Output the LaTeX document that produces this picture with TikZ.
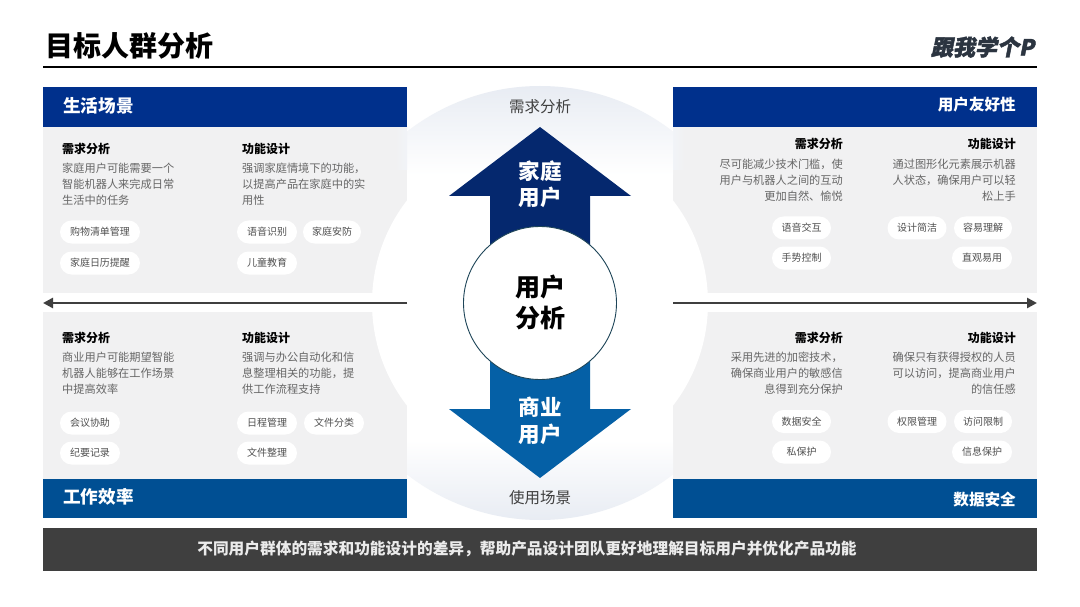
\documentclass[tikz,border=0pt]{standalone}
\usepackage{fontspec}
\usetikzlibrary{arrows.meta}
\setmainfont{Noto Sans CJK SC}
\newfontfamily\logofont[BoldFeatures={FakeBold=2}]{Noto Sans CJK SC}
\definecolor{hdrA}{HTML}{00308C}
\definecolor{hdrB}{HTML}{004F93}
\definecolor{panel}{HTML}{F1F1F2}
\definecolor{arrA}{HTML}{05286E}
\definecolor{arrB}{HTML}{0560A6}
\definecolor{barc}{HTML}{3F3F3F}
\definecolor{body}{HTML}{666666}
\definecolor{pilltxt}{HTML}{505050}
\definecolor{halo}{HTML}{E8ECF3}
\definecolor{hubline}{HTML}{1E4558}
\definecolor{logoc}{HTML}{2B3440}
\tikzset{
  x=1pt,y=-1pt,
  panelbox/.style={fill=panel,draw=none},
  hdrL/.style={inner sep=0,anchor=west,text=white,font=\fontsize{17.6}{20}\selectfont\bfseries},
  hdrR/.style={inner sep=0,anchor=east,text=white,font=\fontsize{15.6}{20}\selectfont\bfseries},
  headL/.style={inner sep=0,anchor=west,text=black,font=\fontsize{12}{16}\selectfont\bfseries},
  headR/.style={inner sep=0,anchor=east,text=black,font=\fontsize{12}{16}\selectfont\bfseries},
  bodyL/.style={inner sep=0,anchor=north west,align=left,text=body,font=\fontsize{11.2}{16}\selectfont},
  bodyR/.style={inner sep=0,anchor=north east,align=right,text=body,font=\fontsize{11.2}{16}\selectfont},
  pill/.style={fill=white,draw=none,rounded corners=11.5pt,minimum height=23pt,inner sep=0,text=pilltxt,font=\fontsize{10}{12}\selectfont},
  harrow/.style={draw=barc,line width=2.8pt,-{Triangle[length=10pt,width=10pt]}},
  arrowtxt/.style={inner sep=0,text=white,font=\fontsize{21.5}{24}\selectfont\bfseries},
  hubtxt/.style={inner sep=0,text=black,font=\fontsize{25}{28}\selectfont\bfseries},
  caplabel/.style={inner sep=0,text=barc,font=\fontsize{15.5}{18}\selectfont},
}
\begin{document}
\begin{tikzpicture}
\useasboundingbox (0,0) rectangle (1080,607);
\fill[white] (0,0) rectangle (1080,607);
% grey panels
\fill[panelbox] (43,127) rectangle (407,293);
\fill[panelbox] (43,312) rectangle (407,479);
\fill[panelbox] (673,127) rectangle (1037,293);
\fill[panelbox] (673,312) rectangle (1037,479);
% white disc
\fill[white] (540,303) circle (168);
% halo
\begin{scope}
\clip (407,80) rectangle (673,525);
\clip (540,303) circle (217);
\shade[top color=halo,bottom color=white] (407,86) rectangle (673,175);
\shade[top color=white,bottom color=halo] (407,440) rectangle (673,520);
\end{scope}
\shade[left color=panel,right color=halo!60!white] (395,127) rectangle (407,170);
\shade[left color=halo!60!white,right color=panel] (673,127) rectangle (685,170);
% title
\node[inner sep=0,anchor=west,font=\fontsize{28}{30}\selectfont\bfseries] (title) at (45.5,46) {目标人群分析};
\node[inner sep=0,anchor=east,xslant=0.2,transform shape,text=logoc,font=\logofont\fontsize{22}{24}\selectfont\bfseries] (logo) at (1036,47) {跟我学个P};
\coordinate (ruleL) at (43,67);
\coordinate (ruleR) at (1037,67);
\draw[black,line width=1.2pt] (ruleL) -- (ruleR);
% headers
\fill[hdrA] (43,87) rectangle (407,127);
\fill[hdrA] (673,87) rectangle (1037,127);
\fill[hdrB] (43,479) rectangle (407,518);
\fill[hdrB] (673,479) rectangle (1037,518);
\node[hdrL] (h1) at (63,106) {生活场景};
\node[hdrR] (h2) at (1016,105) {用户友好性};
\node[hdrL] (h3) at (63,497) {工作效率};
\node[hdrR] (h4) at (1016,500) {数据安全};
% axis arrows
\coordinate (al1) at (407,303);
\coordinate (al2) at (43,303);
\coordinate (ar1) at (673,303);
\coordinate (ar2) at (1037,303);
\draw[harrow] (al1) -- (al2);
\draw[harrow] (ar1) -- (ar2);
% centre arrows
\fill[arrA] (540,127) -- (631,196) -- (590,196) -- (590,303) -- (490,303) -- (490,196) -- (449,196) -- cycle;
\fill[arrB] (540,478) -- (631,409) -- (590,409) -- (590,303) -- (490,303) -- (490,409) -- (449,409) -- cycle;
\node[circle,fill=white,draw=hubline,line width=0.9pt,minimum size=153pt,inner sep=0] (hub) at (540,303) {};
\node[hubtxt] (hub1) at (540,287) {用户};
\node[hubtxt] (hub2) at (540,318) {分析};
\node[arrowtxt] (a1) at (540,171) {家庭};
\node[arrowtxt] (a2) at (540,197) {用户};
\node[arrowtxt] (a3) at (540,407) {商业};
\node[arrowtxt] (a4) at (540,434) {用户};
\node[caplabel] (c1) at (540,106.5) {需求分析};
\node[caplabel] (c2) at (540,497.5) {使用场景};
% top-left
\node[headL] (tlh1) at (62,149) {需求分析};
\node[bodyL] (tlb1) at (62,163) {家庭用户可能需要一个\\智能机器人来完成日常\\生活中的任务};
\node[headL] (tlh2) at (242,149) {功能设计};
\node[bodyL] (tlb2) at (242,163) {强调家庭情境下的功能，\\以提高产品在家庭中的实\\用性};
\node[pill,minimum width=80pt] (p1) at (100,232) {购物清单管理};
\node[pill,minimum width=80pt] (p2) at (100,263) {家庭日历提醒};
\node[pill,minimum width=60pt] (p3) at (267,232) {语音识别};
\node[pill,minimum width=58pt] (p4) at (332,232) {家庭安防};
\node[pill,minimum width=60pt] (p5) at (267,263) {儿童教育};
% bottom-left
\node[headL] (blh1) at (62,338) {需求分析};
\node[bodyL] (blb1) at (62,352) {商业用户可能期望智能\\机器人能够在工作场景\\中提高效率};
\node[headL] (blh2) at (242,338) {功能设计};
\node[bodyL] (blb2) at (242,352) {强调与办公自动化和信\\息整理相关的功能，提\\供工作流程支持};
\node[pill,minimum width=60pt] (p6) at (90,423) {会议协助};
\node[pill,minimum width=60pt] (p7) at (90,453) {纪要记录};
\node[pill,minimum width=60pt] (p8) at (267,423) {日程管理};
\node[pill,minimum width=60pt] (p9) at (334,423) {文件分类};
\node[pill,minimum width=60pt] (p10) at (267,453) {文件整理};
% top-right
\node[headR] (trh1) at (843,144) {需求分析};
\node[bodyR] (trb1) at (843,158.5) {尽可能减少技术门槛，使\\用户与机器人之间的互动\\更加自然、愉悦};
\node[headR] (trh2) at (1016,144) {功能设计};
\node[bodyR] (trb2) at (1016,158.5) {通过图形化元素展示机器\\人状态，确保用户可以轻\\松上手};
\node[pill,minimum width=59pt] (p11) at (801.5,228) {语音交互};
\node[pill,minimum width=59pt] (p12) at (801.5,258) {手势控制};
\node[pill,minimum width=59pt] (p13) at (917,228) {设计简洁};
\node[pill,minimum width=58pt] (p14) at (983,228) {容易理解};
\node[pill,minimum width=60pt] (p15) at (982,258) {直观易用};
% bottom-right
\node[headR] (brh1) at (843,338) {需求分析};
\node[bodyR] (brb1) at (843,352) {采用先进的加密技术，\\确保商业用户的敏感信\\息得到充分保护};
\node[headR] (brh2) at (1016,338) {功能设计};
\node[bodyR] (brb2) at (1016,352) {确保只有获得授权的人员\\可以访问，提高商业用户\\的信任感};
\node[pill,minimum width=59pt] (p16) at (801.5,421.5) {数据安全};
\node[pill,minimum width=59pt] (p17) at (801.5,452) {私保护};
\node[pill,minimum width=59pt] (p18) at (917,421.5) {权限管理};
\node[pill,minimum width=58pt] (p19) at (983,421.5) {访问限制};
\node[pill,minimum width=60pt] (p20) at (982,452) {信息保护};
% bottom bar
\fill[barc] (43,528) rectangle (1037,571);
\node[inner sep=0,text=white!92!black,font=\fontsize{15.7}{18}\selectfont\bfseries] (bar) at (527,549) {不同用户群体的需求和功能设计的差异，帮助产品设计团队更好地理解目标用户并优化产品功能};
\end{tikzpicture}
\end{document}
